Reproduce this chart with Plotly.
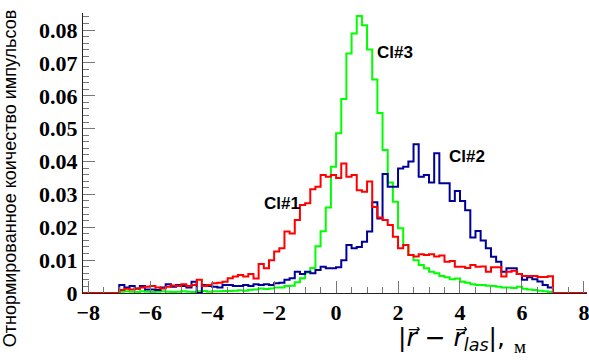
import numpy as np
import plotly.graph_objects as go

# Histogram binning (84 bins from -7 to 7)
bin_start = -7.0
bin_width = 1.0 / 6.0
x_range = [-8.17, 8.1]
y_range = [0.0, 0.0852]

# Cl#1 (red)
cl1 = [0.0009, 0.0013, 0.0011, 0.0013, 0.0017, 0.0019, 0.0021, 0.0017, 0.0014, 0.0019,
       0.0023, 0.0021, 0.0027, 0.0021, 0.0024, 0.0040, 0.0021, 0.0024, 0.0030, 0.0031,
       0.0034, 0.0045, 0.0050, 0.0055, 0.0050, 0.0058, 0.0044, 0.0088, 0.0075, 0.0100,
       0.0126, 0.0136, 0.0187, 0.0181, 0.0222, 0.0268, 0.0273, 0.0316, 0.0323, 0.0359,
       0.0354, 0.0359, 0.0350, 0.0394, 0.0354, 0.0359, 0.0313, 0.0308, 0.0339, 0.0262,
       0.0230, 0.0222, 0.0207, 0.0171, 0.0136, 0.0146, 0.0116, 0.0111, 0.0118, 0.0116,
       0.0118, 0.0111, 0.0114, 0.0095, 0.0097, 0.0080, 0.0080, 0.0076, 0.0085, 0.0080,
       0.0081, 0.0065, 0.0078, 0.0078, 0.0050, 0.0065, 0.0068, 0.0058, 0.0052, 0.0052,
       0.0052, 0.0049, 0.0049, 0.0051]

# Cl#2 (blue)
cl2 = [0.0024, 0.0017, 0.0021, 0.0014, 0.0021, 0.0011, 0.0011, 0.0009, 0.0017, 0.0027,
       0.0019, 0.0024, 0.0021, 0.0017, 0.0034, 0.0000, 0.0024, 0.0021, 0.0019, 0.0017,
       0.0024, 0.0024, 0.0021, 0.0021, 0.0024, 0.0021, 0.0027, 0.0024, 0.0027, 0.0024,
       0.0030, 0.0031, 0.0040, 0.0045, 0.0065, 0.0058, 0.0065, 0.0060, 0.0070, 0.0080,
       0.0075, 0.0075, 0.0078, 0.0100, 0.0146, 0.0136, 0.0140, 0.0156, 0.0187, 0.0276,
       0.0227, 0.0362, 0.0323, 0.0323, 0.0379, 0.0384, 0.0400, 0.0453, 0.0354, 0.0359,
       0.0336, 0.0425, 0.0334, 0.0334, 0.0280, 0.0310, 0.0280, 0.0252, 0.0169, 0.0189,
       0.0160, 0.0136, 0.0110, 0.0095, 0.0065, 0.0075, 0.0075, 0.0058, 0.0040, 0.0048,
       0.0042, 0.0035, 0.0024, 0.0017]

# Cl#3 (green)
cl3 = [0.0004, 0.0005, 0.0004, 0.0003, 0.0005, 0.0004, 0.0003, 0.0004, 0.0005, 0.0004,
       0.0003, 0.0004, 0.0005, 0.0004, 0.0003, 0.0005, 0.0006, 0.0004, 0.0005, 0.0005,
       0.0006, 0.0006, 0.0007, 0.0008, 0.0007, 0.0010, 0.0011, 0.0014, 0.0012, 0.0014,
       0.0017, 0.0017, 0.0021, 0.0022, 0.0033, 0.0045, 0.0062, 0.0076, 0.0142, 0.0188,
       0.0260, 0.0384, 0.0486, 0.0590, 0.0729, 0.0790, 0.0843, 0.0815, 0.0741, 0.0650,
       0.0548, 0.0435, 0.0336, 0.0278, 0.0197, 0.0146, 0.0116, 0.0100, 0.0085, 0.0075,
       0.0065, 0.0060, 0.0052, 0.0048, 0.0042, 0.0044, 0.0034, 0.0031, 0.0027, 0.0024,
       0.0024, 0.0022, 0.0021, 0.0019, 0.0017, 0.0017, 0.0015, 0.0019, 0.0013, 0.0011,
       0.0009, 0.0007, 0.0005, 0.0003]

series = [("Cl#3", cl3, "#00ff00"), ("Cl#2", cl2, "#000099"), ("Cl#1", cl1, "#ff0000")]

labels = [("Cl#1", -1.74, 0.0271), ("Cl#2", 4.24, 0.0414), ("Cl#3", 1.90, 0.0733)]


def step_xy(vals):
    edges = bin_start + bin_width * np.arange(len(vals) + 1)
    xs = [x_range[0]] + list(edges) + [x_range[1]]
    ys = [0.0] + list(vals) + [0.0, 0.0]
    return xs, ys


fig = go.Figure()
for name, vals, color in series:
    xs, ys = step_xy(vals)
    fig.add_trace(go.Scatter(x=xs, y=ys, mode="lines", line_shape="hv",
                             line=dict(color=color, width=2), name=name,
                             showlegend=False, cliponaxis=False))

W, H = 589, 360
ml, mr, mt, mb = 83, 0, 13, 67
pw, ph = W - ml - mr, H - mt - mb


def px(xp):
    return (xp - ml) / pw


def py(yp):
    return (H - mb - yp) / ph


tick_font = dict(family="Liberation Serif", size=22, color="black", weight="bold")

fig.update_layout(
    width=W, height=H,
    margin=dict(l=ml, r=mr, t=mt, b=mb, pad=0),
    paper_bgcolor="white", plot_bgcolor="white",
    xaxis=dict(range=x_range, showgrid=False, zeroline=False,
               showline=True, linecolor="#222", linewidth=1,
               ticks="inside", ticklen=12, tickcolor="#777", tickwidth=1,
               tick0=0, dtick=2, tickfont=tick_font, ticklabeloverflow="allow",
               minor=dict(ticks="inside", ticklen=6, dtick=0.5, tickcolor="#777", showgrid=False)),
    yaxis=dict(range=y_range, showgrid=False, zeroline=False,
               showline=True, linecolor="#222", linewidth=1,
               ticks="inside", ticklen=12, tickcolor="#777", tickwidth=1,
               tick0=0, dtick=0.01, tickfont=tick_font,
               minor=dict(ticks="inside", ticklen=6, dtick=0.002, tickcolor="#777", showgrid=False)),
)

for text, lx, ly in labels:
    fig.add_annotation(x=lx, y=ly, xref="x", yref="y", text=text, showarrow=False,
                       font=dict(family="Liberation Sans", size=17, color="black", weight="bold"))

# y-axis title
fig.add_annotation(x=px(10), y=py(178), xref="paper", yref="paper",
                   text="Отнормированное коичество импульсов", textangle=-90,
                   showarrow=False, xanchor="center", yanchor="middle",
                   font=dict(family="Liberation Sans", size=18, color="black"))

# x-axis title
fig.add_annotation(x=px(453), y=py(339), xref="paper", yref="paper",
                   text="|<i>r\u20d7</i> \u2212 <i>r\u20d7</i><sub><i>las</i></sub>|,",
                   showarrow=False, xanchor="center", yanchor="middle",
                   font=dict(family="DejaVu Sans", size=25, color="black"))
fig.add_annotation(x=px(522), y=py(346), xref="paper", yref="paper",
                   text="м", showarrow=False, xanchor="center", yanchor="middle",
                   font=dict(family="Liberation Serif", size=19, color="black"))

fig.write_html("out.html")
